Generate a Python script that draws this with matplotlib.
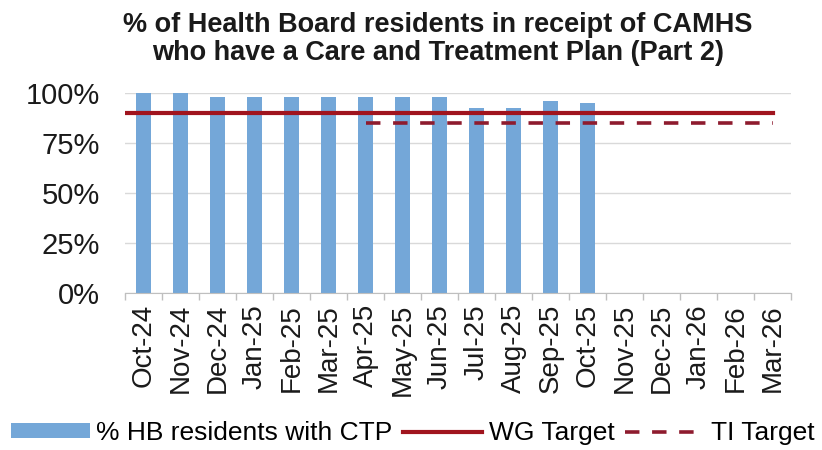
import numpy as np
import matplotlib
matplotlib.use("Agg")
import matplotlib.pyplot as plt
from matplotlib.ticker import PercentFormatter

plt.rcParams['font.family'] = ['Liberation Sans', 'DejaVu Sans']

# data
months = ['Oct-24', 'Nov-24', 'Dec-24', 'Jan-25', 'Feb-25', 'Mar-25', 'Apr-25',
          'May-25', 'Jun-25', 'Jul-25', 'Aug-25', 'Sep-25', 'Oct-25', 'Nov-25',
          'Dec-25', 'Jan-26', 'Feb-26', 'Mar-26']
pct_ctp = [1.00, 1.00, 0.98, 0.98, 0.98, 0.98, 0.98, 0.98, 0.98,
           0.925, 0.925, 0.96, 0.948]
wg_target = 0.90
ti_target = 0.85
ti_start = 'Apr-25'

bar_col = '#74A7D8'
wg_col = '#A0141E'
ti_col = '#8E1B2E'

fig = plt.figure(figsize=(8.22, 4.5), dpi=100)
ax = fig.add_axes([125/822, 1-293/450, (791-125)/822, (293-93)/450])

x = np.arange(len(months))
bars = ax.bar(x[:len(pct_ctp)], pct_ctp, width=0.38, color=bar_col, zorder=2,
              label='% HB residents with CTP')

# target lines
wg, = ax.plot([-0.5] + list(x), [wg_target]*(len(x)+1), color=wg_col, lw=3,
              zorder=3, label='WG Target')
i0 = months.index(ti_start)
ti, = ax.plot(x[i0:], [ti_target]*len(x[i0:]), color=ti_col, lw=2.6,
              dashes=(4, 3.5), zorder=3, label='TI Target')

ax.set_xlim(-0.5, len(months)-0.5)
ax.set_ylim(0, 1)
ax.set_yticks([0, 0.25, 0.5, 0.75, 1.0])
ax.yaxis.set_major_formatter(PercentFormatter(1.0, decimals=0))
ax.grid(axis='y', color='#D9D9D9', lw=1, zorder=0)
ax.set_axisbelow(True)

ax.set_xticks(x)
ax.set_xticklabels(months, rotation=90)
ax.set_xticks(np.arange(-0.5, len(months)), minor=True)
ax.tick_params(axis='x', which='major', length=0, pad=8, labelsize=20,
               labelcolor='#1A1A1A')
ax.tick_params(axis='x', which='minor', length=5, color='#BFBFBF', width=1)
ax.tick_params(axis='y', length=0, pad=18, labelsize=21, labelcolor='#1A1A1A')
for s in ['top', 'right', 'left']:
    ax.spines[s].set_visible(False)
ax.spines['bottom'].set_color('#BFBFBF')

fig.text(438/822, 1-39/450,
         '% of Health Board residents in receipt of CAMHS\n'
         'who have a Care and Treatment Plan (Part 2)',
         ha='center', va='center', fontsize=19.5, fontweight='bold',
         linespacing=1.05, color='#1A1A1A')

fig.legend([bars, wg, ti], ['% HB residents with CTP', 'WG Target', 'TI Target'],
           loc='center', bbox_to_anchor=(0.502, 0.038), ncol=3, frameon=False,
           fontsize=19, handlelength=3.0, handleheight=0.45,
           handletextpad=0.25, columnspacing=0.4, borderaxespad=0)

fig.savefig('out.png', dpi=100)
